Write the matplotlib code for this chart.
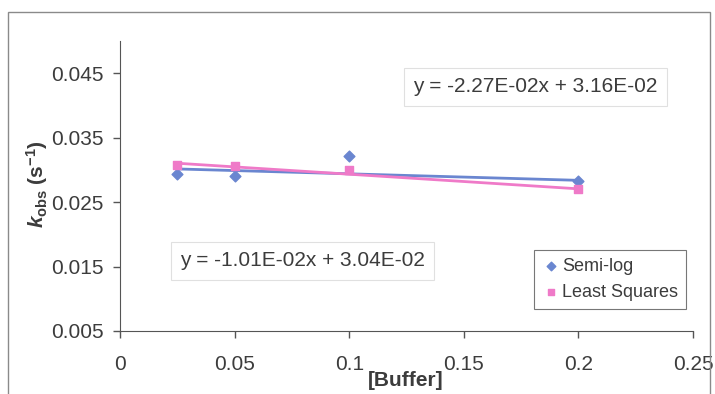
import matplotlib
matplotlib.use('Agg')
import matplotlib.pyplot as plt
import matplotlib.patches as patches
import numpy as np

plt.rcParams['font.family'] = ['Liberation Sans', 'DejaVu Sans']
plt.rcParams['mathtext.fontset'] = 'custom'
plt.rcParams['mathtext.rm'] = 'Liberation Sans:bold'
plt.rcParams['mathtext.it'] = 'Liberation Sans:italic:bold'
plt.rcParams['mathtext.bf'] = 'Liberation Sans:bold'

# data
buffer_conc = [0.025, 0.05, 0.1, 0.2]
semi_log = [0.0294, 0.0290, 0.0322, 0.0282]
least_squares = [0.0308, 0.0306, 0.0300, 0.0270]

# trendline equations shown on the chart (slope, intercept)
semi_log_fit = (-1.01e-02, 3.04e-02)
least_sq_fit = (-2.27e-02, 3.16e-02)

x_ticks = [0, 0.05, 0.1, 0.15, 0.2, 0.25]
x_labels = ['0', '0.05', '0.1', '0.15', '0.2', '0.25']
y_ticks = [0.005, 0.015, 0.025, 0.035, 0.045]
y_labels = ['0.005', '0.015', '0.025', '0.035', '0.045']

blue = '#6a86d0'
pink = '#ef7ac8'
txt = '#3c3c3c'

W, H = 715, 394
fig = plt.figure(figsize=(W / 100, H / 100), dpi=100)

# outer chart frame
fig.patches.append(patches.Rectangle((8 / W, -0.05), (710 - 8) / W, 1.05 - 12 / H,
                                     transform=fig.transFigure, fill=False,
                                     edgecolor='#8a8a8a', lw=1.0))

ax = fig.add_axes([120 / W, (H - 331) / H, (693 - 120) / W, (331 - 41) / H])
ax.set_xlim(0, 0.25)
ax.set_ylim(0.005, 0.05)

xs = np.array([buffer_conc[0], buffer_conc[-1]])
ax.plot(xs, semi_log_fit[0] * xs + semi_log_fit[1], color=blue, lw=2, zorder=2)
ax.plot(xs, least_sq_fit[0] * xs + least_sq_fit[1], color=pink, lw=2, zorder=2)
ax.scatter(buffer_conc, semi_log, marker='D', s=30, color=blue, label='Semi-log', zorder=3)
ax.scatter(buffer_conc, least_squares, marker='s', s=34, color=pink, label='Least Squares', zorder=3)

ax.set_xticks(x_ticks)
ax.set_xticklabels(x_labels)
ax.set_yticks(y_ticks)
ax.set_yticklabels(y_labels)
ax.tick_params(axis='both', direction='out', length=5, width=1, colors='#555555',
               labelcolor=txt, labelsize=15)
ax.tick_params(axis='x', pad=12)
ax.tick_params(axis='y', pad=7)
for s in ['top', 'right']:
    ax.spines[s].set_visible(False)
for s in ['left', 'bottom']:
    ax.spines[s].set_color('#555555')

fig.text(406 / W, 1 - 381 / H, '[Buffer]', fontsize=15, fontweight='bold',
         color=txt, ha='center', va='center')
fig.text(37 / W, 1 - 184 / H, r'$k_{\mathrm{obs}}$ ($\mathrm{s}^{-1}$)', fontsize=15,
         fontweight='bold', color=txt, rotation=90, ha='center', va='center')

box = dict(boxstyle='square,pad=0.45', facecolor='white', edgecolor='#e0e0e0', lw=0.8)
fig.text(413 / W, 1 - 87 / H, 'y = -2.27E-02x + 3.16E-02', fontsize=15, color=txt,
         ha='left', va='center', bbox=box)
fig.text(180 / W, 1 - 261 / H, 'y = -1.01E-02x + 3.04E-02', fontsize=15, color=txt,
         ha='left', va='center', bbox=box)

leg = ax.legend(loc='upper left', bbox_to_anchor=(534 / W, 1 - 250 / H),
                bbox_transform=fig.transFigure, fontsize=13, frameon=True,
                fancybox=False, handletextpad=0.1, handlelength=1.0,
                borderpad=0.45, labelspacing=0.5, markerscale=0.8,
                borderaxespad=0)
leg.get_frame().set_edgecolor('#555555')
leg.get_frame().set_linewidth(0.8)
for t in leg.get_texts():
    t.set_color(txt)

fig.savefig('out.png', dpi=100)
